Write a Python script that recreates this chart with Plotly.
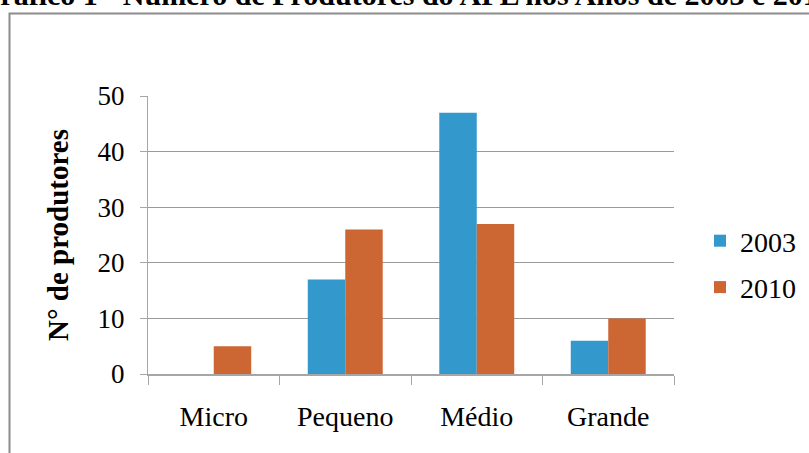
import plotly.graph_objects as go

categories = ["Micro", "Pequeno", "Médio", "Grande"]
series_names = ["2003", "2010"]
values_2003 = [0, 17, 47, 6]
values_2010 = [5, 26, 27, 10]
y_ticks = [0, 10, 20, 30, 40, 50]

W, H = 809, 453
L, R, T, B = 148, 809 - 674, 96, 453 - 374
pw, ph = W - L - R, H - T - B

def px_x(p):
    return (p - L) / pw

def px_y(p):
    return (H - B - p) / ph

SERIF = "Liberation Serif"

fig = go.Figure()
fig.add_trace(go.Bar(x=categories, y=values_2003, name=series_names[0],
                     marker=dict(color="#3399CC", line=dict(width=0)),
                     legendgroup="a"))
fig.add_trace(go.Bar(x=categories, y=values_2010, name=series_names[1],
                     marker=dict(color="#CC6633", line=dict(width=0)),
                     legendgroup="b"))

fig.update_layout(
    width=W, height=H,
    margin=dict(l=L, r=R, t=T, b=B, autoexpand=False),
    paper_bgcolor="white", plot_bgcolor="white",
    barmode="group", bargap=0.43, bargroupgap=0,
    font=dict(family=SERIF, size=27, color="black"),
    showlegend=True,
    legend=dict(x=px_x(700), xanchor="left", y=px_y(264), yanchor="middle",
                font=dict(family=SERIF, size=28, color="black"),
                tracegroupgap=7, bgcolor="rgba(0,0,0,0)"),
    xaxis=dict(showgrid=False, showline=True, linecolor="#A6A6A6", linewidth=2,
               ticks="outside", tickson="boundaries", ticklen=9, tickcolor="#A6A6A6",
               tickwidth=1, ticklabelstandoff=16,
               tickfont=dict(family=SERIF, size=28, color="black")),
    yaxis=dict(range=[0, 50], tickvals=y_ticks, showgrid=True, gridcolor="#9A9A9A",
               gridwidth=1, showline=True, linecolor="#A6A6A6", linewidth=1,
               ticks="outside", ticklen=7, tickcolor="#A6A6A6",
               ticklabelstandoff=10, zeroline=False,
               tickfont=dict(family=SERIF, size=27, color="black")),
)

fig.add_annotation(text="<b>N° de produtores</b>", textangle=-90,
                   x=px_x(58), y=px_y(235), xref="paper", yref="paper",
                   xanchor="center", yanchor="middle", showarrow=False,
                   font=dict(family=SERIF, size=29, color="black"))

fig.add_annotation(text="<b>Gráfico 1 - Número de Produtores do APL nos Anos de 2003 e 2010</b>",
                   x=px_x(405), y=px_y(13), xref="paper", yref="paper",
                   xanchor="center", yanchor="bottom", showarrow=False,
                   font=dict(family=SERIF, size=30, color="black"))

fig.add_shape(type="rect", xref="paper", yref="paper",
              x0=px_x(9.5), x1=px_x(830), y0=px_y(13.5), y1=px_y(480),
              line=dict(color="#8C8C8C", width=2), fillcolor="rgba(0,0,0,0)",
              layer="below")

fig.write_html("out.html")
